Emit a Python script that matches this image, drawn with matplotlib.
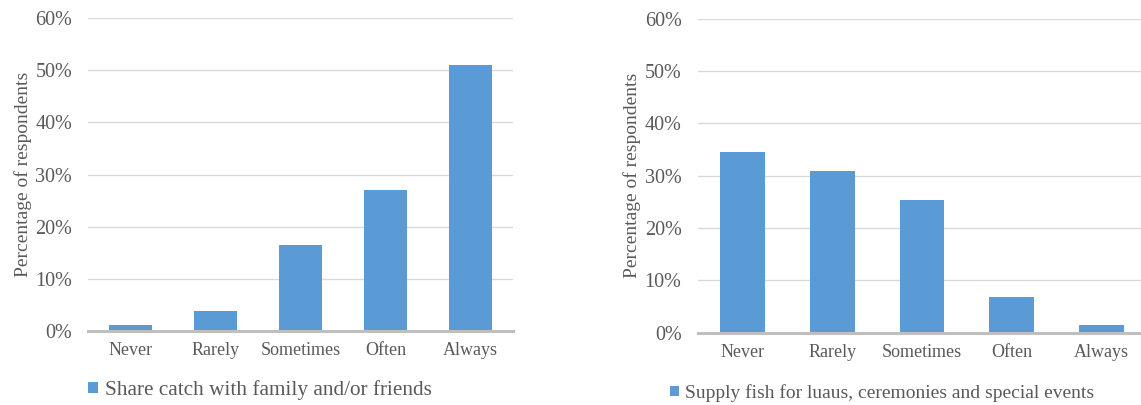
import matplotlib

matplotlib.use("Agg")
from matplotlib import pyplot as plt  # noqa: E402
from matplotlib.patches import Patch  # noqa: E402

# Data (percent of respondents)
categories = ["Never", "Rarely", "Sometimes", "Often", "Always"]
share_catch = [1.2, 3.9, 16.5, 27.1, 51.0]
supply_fish = [34.6, 30.9, 25.3, 6.8, 1.5]
yticks = [0, 10, 20, 30, 40, 50, 60]

share_label = "Share catch with family and/or friends"
supply_label = "Supply fish for luaus, ceremonies and special events"

BAR = "#5B9BD5"
GRID = "#D9D9D9"
AXIS = "#BFBFBF"
TEXT = "#595959"

plt.rcParams["font.family"] = ["Liberation Serif", "DejaVu Serif"]

W, H = 1141, 405


def panel(fig, rect_px, values, legend_text, legend_xy, legend_size):
    x0, y0, x1, y1 = rect_px  # left, top, right, bottom in pixels
    ax = fig.add_axes([x0 / W, 1 - y1 / H, (x1 - x0) / W, (y1 - y0) / H])
    xs = range(len(categories))
    ax.bar(xs, values, width=0.5, color=BAR, zorder=3)
    ax.set_xlim(-0.5, len(categories) - 0.5)
    ax.set_ylim(0, 60)
    ax.set_yticks(yticks)
    ax.set_yticklabels([f"{v}%" for v in yticks])
    ax.set_xticks(list(xs))
    ax.set_xticklabels(categories)
    for s in ("top", "right", "left"):
        ax.spines[s].set_visible(False)
    ax.spines["bottom"].set_color(AXIS)
    ax.spines["bottom"].set_linewidth(2.2)
    ax.spines["bottom"].set_zorder(4)
    ax.grid(axis="y", color=GRID, linewidth=1)
    ax.set_axisbelow(True)
    ax.tick_params(axis="both", length=0, colors=TEXT)
    ax.tick_params(axis="x", pad=8, labelsize=13)
    ax.tick_params(axis="y", pad=11.5, labelsize=14.5)
    ax.set_ylabel("Percentage of respondents", color=TEXT, fontsize=14,
                  labelpad=2.5)
    handle = Patch(facecolor=BAR, edgecolor="none")
    fig.legend([handle], [legend_text], loc="center left",
               bbox_to_anchor=(legend_xy[0] / W, 1 - legend_xy[1] / H),
               frameon=False, fontsize=legend_size, labelcolor=TEXT,
               handlelength=0.45, handleheight=0.45, handletextpad=0.33,
               borderaxespad=0, borderpad=0)
    return ax


fig = plt.figure(figsize=(W / 100, H / 100), dpi=100)
fig.patch.set_facecolor("white")

panel(fig, (88, 18, 513, 331), share_catch, share_label, (88, 390), 15.3)
panel(fig, (697.5, 18.5, 1146.5, 332.7), supply_fish, supply_label,
      (670, 393), 14)

fig.savefig("out.png", dpi=100, facecolor="white")
